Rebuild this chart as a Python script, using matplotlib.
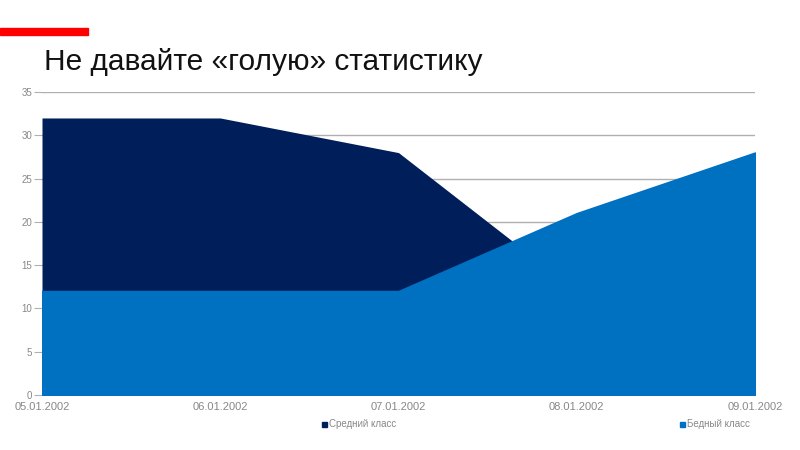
import matplotlib
matplotlib.use("Agg")
import matplotlib.pyplot as plt
from matplotlib.patches import Rectangle

plt.rcParams['font.family'] = ['Liberation Sans', 'DejaVu Sans']

dates = ["05.01.2002", "06.01.2002", "07.01.2002", "08.01.2002", "09.01.2002"]
middle = [32, 32, 28, 12, 12]
poor = [12, 12, 12, 21, 28]
series_names = ["Средний класс", "Бедный класс"]

navy = "#001e5a"
blue = "#0070c0"
grey = "#888888"

fig = plt.figure(figsize=(8, 4.5), dpi=100)
fig.patch.set_facecolor("white")

# red strip and title
fig.patches.append(Rectangle((0, 1 - 35 / 450), 88 / 800, 7 / 450,
                             transform=fig.transFigure, color="#ff0000", zorder=5))
fig.text(44 / 800, 1 - 70 / 450, "Не давайте «голую» статистику",
         fontsize=21.5, color="#111111", va="baseline", ha="left")

ax = fig.add_axes([42 / 800, 55 / 450, 713 / 800, 303 / 450])
ax.set_facecolor("none")
x = list(range(len(dates)))
ax.fill_between(x, 0, middle, color=navy, lw=0, zorder=2, label=series_names[0])
ax.fill_between(x, 0, poor, facecolor=blue, edgecolor=blue, lw=1.2, zorder=3,
                label=series_names[1])

ax.set_xlim(0, len(dates) - 1)
ax.set_ylim(0, 35)
ax.set_yticks(range(0, 36, 5))
ax.set_xticks(x)
ax.set_xticklabels(dates)
ax.yaxis.grid(True, color="#b0b0b0", lw=1, zorder=1)
ax.set_axisbelow(True)
for s in ax.spines.values():
    s.set_visible(False)
ax.tick_params(axis="y", length=6, color="#b0b0b0", labelsize=7, labelcolor=grey, pad=1)
ax.tick_params(axis="x", length=0, labelsize=8, labelcolor=grey, pad=5)

# legend entries placed as in the original
fig.patches.append(Rectangle((322 / 800, 1 - 427 / 450), 5 / 800, 5 / 450,
                             transform=fig.transFigure, color=navy))
fig.text(329 / 800, 1 - 424 / 450, series_names[0], fontsize=7, color=grey, va="center")
fig.patches.append(Rectangle((680 / 800, 1 - 427 / 450), 5 / 800, 5 / 450,
                             transform=fig.transFigure, color=blue))
fig.text(687 / 800, 1 - 424 / 450, series_names[1], fontsize=7, color=grey, va="center")

fig.savefig("out.png", dpi=100)
